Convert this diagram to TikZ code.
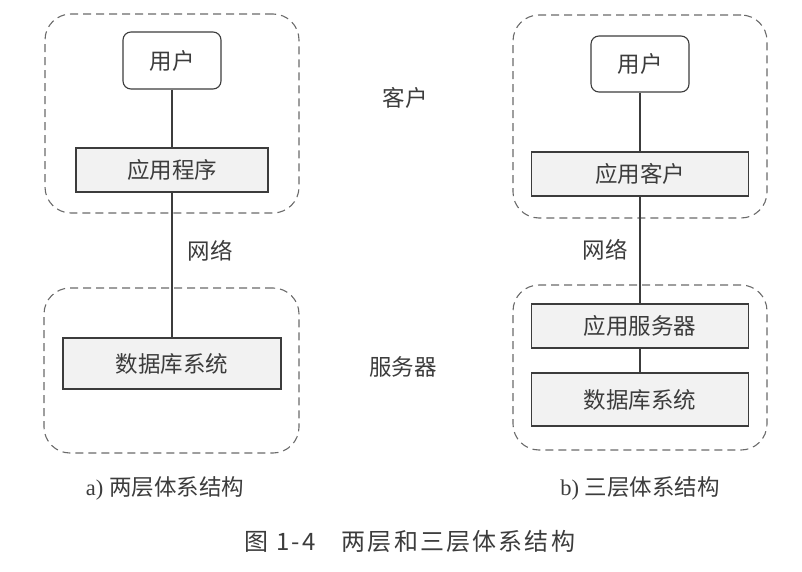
\documentclass[tikz,border=0pt]{standalone}
\usepackage{fontspec}
\setmainfont{Liberation Serif}
\newfontfamily\cjk{Noto Sans CJK SC}
\newfontfamily\cjkt[LetterSpace=9]{Noto Sans CJK SC}
\definecolor{ink}{HTML}{3C3C3C}
\definecolor{dashcol}{HTML}{6A6A6A}
\definecolor{boxfill}{HTML}{F2F2F2}
\tikzset{
  tier/.style={draw=ink, line width=1.1pt, fill=boxfill, inner sep=0pt, text=ink,
    font=\cjk\fontsize{22.5}{26}\selectfont},
  userbox/.style={tier, fill=white, rounded corners=8pt, minimum width=98pt, minimum height=57pt},
  group/.style={draw=dashcol, line width=1.1pt, dash pattern=on 8pt off 5pt, rounded corners=26pt, inner sep=0pt},
  link/.style={draw=ink, line width=1.1pt},
  lbl/.style={text=ink, font=\cjk\fontsize{22.5}{26}\selectfont, inner sep=0pt},
  captxt/.style={text=ink, font=\fontsize{22.5}{26}\selectfont, inner sep=0pt}
}
\begin{document}
\begin{tikzpicture}[x=1pt,y=-1pt]
\useasboundingbox (0,0) rectangle (802,572);
% dashed groups
\node[group, minimum width=254pt, minimum height=199pt] (lclient) at (172,113.5) {};
\node[group, minimum width=255pt, minimum height=165pt] (lserver) at (171.5,370.5) {};
\node[group, minimum width=254pt, minimum height=203pt] (rclient) at (640,116.5) {};
\node[group, minimum width=254pt, minimum height=165pt] (rserver) at (640,367.5) {};
% left tiers
\node[userbox] (luser) at (172,60.5) {用户};
\node[tier, minimum width=192pt, minimum height=44pt] (lapp) at (172,170) {应用程序};
\node[tier, minimum width=218pt, minimum height=51pt] (ldb) at (172,363.5) {数据库系统};
% right tiers
\node[userbox, minimum height=56pt] (ruser) at (640,64) {用户};
\node[tier, minimum width=217pt, minimum height=44pt] (rapp) at (640,174) {应用客户};
\node[tier, minimum width=217pt, minimum height=44pt] (rsrv) at (640,326) {应用服务器};
\node[tier, minimum width=217pt, minimum height=53pt] (rdb) at (640,399.5) {数据库系统};
% connectors
\draw[link] (luser) -- (lapp);
\draw[link] (lapp) -- (ldb);
\draw[link] (ruser) -- (rapp);
\draw[link] (rapp) -- (rsrv);
\draw[link] (rsrv) -- (rdb);
% labels
\node[lbl] (lnet) at (210,251) {网络};
\node[lbl] (rnet) at (605,250) {网络};
\node[lbl] (client) at (405,98) {客户};
\node[lbl] (server) at (403,367) {服务器};
% captions
\node[captxt] (capa) at (165,488) {a) {\cjk 两层体系结构}};
\node[captxt] (capb) at (640,488) {b) {\cjk 三层体系结构}};
\node[text=ink, inner sep=0pt, font=\cjkt\fontsize{24}{28}\selectfont] (title) at (410,541)
  {图 1-4\hspace{26pt}两层和三层体系结构};
\end{tikzpicture}
\end{document}
